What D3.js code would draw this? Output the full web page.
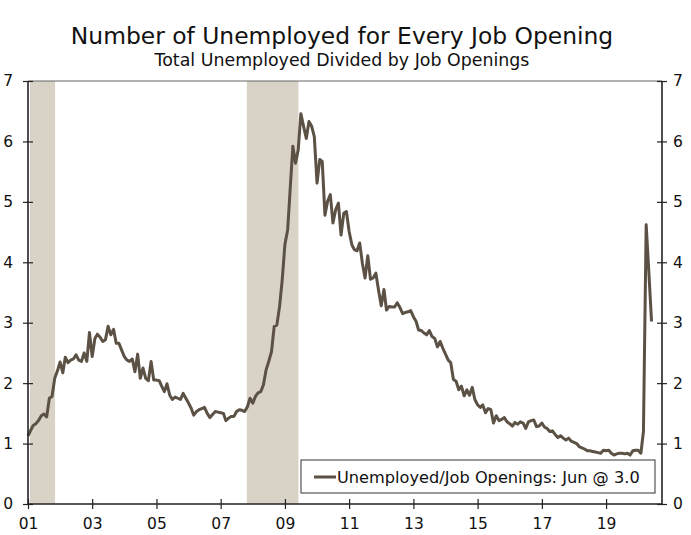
<!DOCTYPE html>
<html>
<head>
<meta charset="utf-8">
<script src="https://cdn.jsdelivr.net/npm/d3@7"></script>
<style>
  body { margin: 0; background: #fff; }
  svg { font-family: "DejaVu Sans", Verdana, sans-serif; }
</style>
</head>
<body>
<div class="chart"></div>
<script>
// Unemployed per job opening, monthly Jan 2001 - Jun 2020
var startMonth = '2001-01'
var ratio = [
  1.13, 1.22, 1.30, 1.33, 1.38, 1.46, 1.49, 1.44, 1.75, 1.78, 2.08, 2.20,
  2.35, 2.17, 2.43, 2.34, 2.38, 2.40, 2.47, 2.38, 2.36, 2.50, 2.36, 2.84,
  2.44, 2.74, 2.81, 2.76, 2.69, 2.72, 2.94, 2.80, 2.89, 2.66, 2.66, 2.55,
  2.44, 2.38, 2.36, 2.40, 2.19, 2.48, 2.08, 2.25, 2.08, 2.04, 2.36, 2.05,
  2.05, 2.04, 1.95, 1.86, 1.99, 1.80, 1.73, 1.77, 1.75, 1.73, 1.83, 1.75,
  1.67, 1.58, 1.47, 1.53, 1.56, 1.58, 1.60, 1.50, 1.43, 1.48, 1.53, 1.52,
  1.51, 1.50, 1.38, 1.42, 1.45, 1.45, 1.53, 1.56, 1.55, 1.53, 1.61, 1.75,
  1.67, 1.78, 1.84, 1.86, 1.97, 2.22, 2.36, 2.52, 2.94, 2.96, 3.27, 3.71,
  4.30, 4.54, 5.20, 5.92, 5.64, 5.86, 6.46, 6.25, 6.05, 6.33, 6.25, 6.08,
  5.31, 5.70, 5.67, 4.78, 5.01, 5.12, 4.65, 4.87, 4.98, 4.45, 4.81, 4.84,
  4.51, 4.29, 4.21, 4.19, 4.32, 3.98, 3.74, 4.11, 3.72, 3.74, 3.82, 3.54,
  3.28, 3.55, 3.21, 3.27, 3.26, 3.26, 3.33, 3.25, 3.15, 3.17, 3.18, 3.20,
  3.10, 3.02, 2.88, 2.87, 2.83, 2.80, 2.87, 2.77, 2.74, 2.60, 2.69, 2.58,
  2.48, 2.38, 2.34, 2.06, 2.03, 1.89, 1.95, 1.79, 1.89, 1.80, 1.93, 1.73,
  1.64, 1.60, 1.64, 1.51, 1.58, 1.56, 1.34, 1.46, 1.38, 1.40, 1.43, 1.36,
  1.33, 1.29, 1.35, 1.32, 1.36, 1.34, 1.25, 1.36, 1.38, 1.39, 1.28, 1.29,
  1.34, 1.27, 1.25, 1.20, 1.21, 1.15, 1.10, 1.13, 1.09, 1.06, 1.09, 1.04,
  1.02, 1.00, 0.95, 0.93, 0.91, 0.88, 0.88, 0.87, 0.86, 0.85, 0.84, 0.89,
  0.88, 0.89, 0.84, 0.81, 0.83, 0.84, 0.84, 0.83, 0.84, 0.81, 0.88, 0.89,
  0.89, 0.84, 1.20, 4.62, 3.85, 3.02
]

// recession bands as drawn (start, end)
var recessions = [
  ['2001-01-24', '2001-11-05'],
  ['2007-10-26', '2009-06-03']
]

var yTicks = [0, 1, 2, 3, 4, 5, 6, 7]
var xTickYears = [2001, 2003, 2005, 2007, 2009, 2011, 2013, 2015, 2017, 2019]
var xDomain = ['2001-01-01', '2020-09-28']

var titleText = 'Number of Unemployed for Every Job Opening'
var subtitleText = 'Total Unemployed Divided by Job Openings'
var legendText = 'Unemployed/Job Openings: Jun @ 3.0'

var lineColor = '#5c5145'
var shadeColor = '#d9d2c7'

var parse = d3.timeParse('%Y-%m-%d')
var start = d3.timeParse('%Y-%m')(startMonth)
var data = ratio.map((v, i) => ({ date: d3.timeMonth.offset(start, i), value: v }))

var W = 691
var H = 535
var margin = { top: 81, right: 29, bottom: 31, left: 28 }
var width = W - margin.left - margin.right
var height = H - margin.top - margin.bottom

var svg = d3.select('.chart')
  .append('svg')
  .attr('width', W)
  .attr('height', H)

svg.append('text')
  .attr('x', 342)
  .attr('y', 44)
  .attr('text-anchor', 'middle')
  .style('font-size', '23.4px')
  .attr('fill', '#111')
  .text(titleText)

svg.append('text')
  .attr('x', 342)
  .attr('y', 66)
  .attr('text-anchor', 'middle')
  .style('font-size', '17.4px')
  .attr('fill', '#111')
  .text(subtitleText)

var g = svg.append('g')
  .attr('transform', 'translate(' + margin.left + ',' + margin.top + ')')

var xScale = d3.scaleTime()
  .domain(xDomain.map(parse))
  .range([0, width])

var yScale = d3.scaleLinear()
  .domain([0, 7])
  .range([height, 0])

// recession shading
g.selectAll('rect.rec')
  .data(recessions)
  .enter()
  .append('rect')
  .attr('class', 'rec')
  .attr('x', d => xScale(parse(d[0])))
  .attr('width', d => xScale(parse(d[1])) - xScale(parse(d[0])))
  .attr('y', 0)
  .attr('height', height)
  .attr('fill', shadeColor)

// top frame line
g.append('line')
  .attr('x1', 0).attr('x2', width)
  .attr('y1', 0).attr('y2', 0)
  .attr('stroke', '#666')
  .attr('stroke-width', 1)

var line = d3.line()
  .x(d => xScale(d.date))
  .y(d => yScale(d.value))

g.append('path')
  .datum(data)
  .attr('d', line)
  .attr('fill', 'none')
  .attr('stroke', lineColor)
  .attr('stroke-width', 3)
  .attr('stroke-linejoin', 'round')

// axes
var yLeft = d3.axisLeft(yScale).tickValues(yTicks).tickSize(5).tickPadding(10).tickFormat(d3.format('d'))
var yRight = d3.axisRight(yScale).tickValues(yTicks).tickSize(5).tickPadding(6).tickFormat(d3.format('d'))
var xAxis = d3.axisBottom(xScale)
  .tickValues(xTickYears.map(y => new Date(y, 0, 1)))
  .tickSize(5)
  .tickPadding(9)
  .tickFormat(d3.timeFormat('%y'))

function styleAxis(sel) {
  sel.select('.domain').attr('stroke', '#222').attr('stroke-width', 1.6)
  sel.selectAll('.tick line').attr('stroke', '#222').attr('stroke-width', 1.2)
  sel.selectAll('.tick text').attr('fill', '#111').style('font-size', '15.5px').style('font-family', '"DejaVu Sans", Verdana, sans-serif')
}

g.append('g')
  .attr('class', 'axis')
  .attr('transform', 'translate(0,' + height + ')')
  .call(xAxis)
  .call(styleAxis)
  .call(s => s.select('.domain').attr('d', 'M0,0H' + width))
  .selectAll('.tick line').attr('y1', -5)

g.append('g')
  .attr('class', 'axis')
  .call(yLeft)
  .call(styleAxis)
  .call(s => s.select('.domain').attr('d', 'M0,0V' + height))
  .selectAll('.tick line').attr('x1', 5)

g.append('g')
  .attr('class', 'axis')
  .attr('transform', 'translate(' + width + ',0)')
  .call(yRight)
  .call(styleAxis)
  .call(s => s.select('.domain').attr('d', 'M0,0V' + height))
  .selectAll('.tick line').attr('x1', -5)

// legend
var legend = svg.append('g').attr('transform', 'translate(301,460)')
legend.append('rect')
  .attr('width', 354)
  .attr('height', 33)
  .attr('fill', '#fff')
  .attr('stroke', '#333')
  .attr('stroke-width', 1)
legend.append('line')
  .attr('x1', 13).attr('x2', 35)
  .attr('y1', 17).attr('y2', 17)
  .attr('stroke', lineColor)
  .attr('stroke-width', 3)
legend.append('text')
  .attr('x', 36)
  .attr('y', 23)
  .style('font-size', '16.2px')
  .attr('fill', '#111')
  .text(legendText)
</script>
</body>
</html>
